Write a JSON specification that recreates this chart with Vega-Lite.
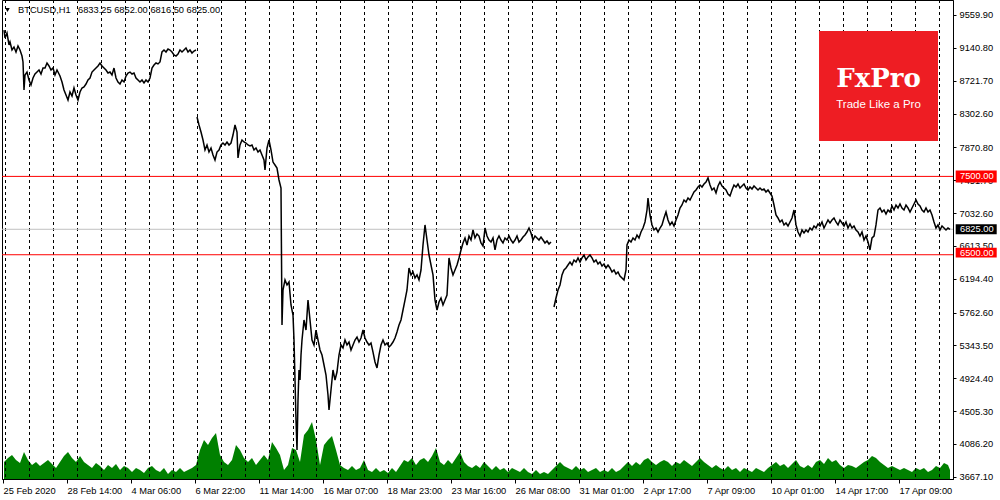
{
"$schema": "https://vega.github.io/schema/vega-lite/v6.json",
"width": 951, "height": 479,
"autosize": {"type": "none"},
"padding": {"left": 2, "top": 0, "right": 47, "bottom": 21},
"background": "#ffffff",
"config": {"view": {"stroke": "#000000", "strokeWidth": 1}},
"datasets": {
"grid": [{"g":2.5},{"g":26.5},{"g":50.5},{"g":74.5},{"g":98.5},{"g":122.5},{"g":146.5},{"g":170.5},{"g":194.5},{"g":218.5},{"g":242.5},{"g":266.5},{"g":290.5},{"g":313.5},{"g":337.5},{"g":361.5},{"g":385.5},{"g":409.5},{"g":433.5},{"g":457.5},{"g":481.5},{"g":505.5},{"g":529.5},{"g":553.5},{"g":577.5},{"g":601.5},{"g":625.5},{"g":648.5},{"g":672.5},{"g":696.5},{"g":720.5},{"g":744.5},{"g":768.5},{"g":792.5},{"g":816.5},{"g":840.5},{"g":864.5},{"g":888.5},{"g":912.5},{"g":936.5}],
"levels": [{"lv": 7500, "c": "red"}, {"lv": 6500, "c": "red"}, {"lv": 6825, "c": "grey"}],
"notes": [{"tx": "BTCUSD,H1", "x": 15, "y": 9623.7}, {"tx": "6833.25 6852.00 6816.50 6825.00", "x": 75, "y": 9623.7}],
"tags": [{"tx": "7500.00", "lv": 7500, "top": 7576.6, "bot": 7423.4, "c": "red"}, {"tx": "6825.00", "lv": 6825, "top": 6888.8, "bot": 6761.2, "c": "black"}, {"tx": "6500.00", "lv": 6527, "top": 6590, "bot": 6465, "c": "red"}],
"vol": [{"t":1,"v":17},{"t":5,"v":21},{"t":9,"v":24},{"t":13,"v":19},{"t":17,"v":16},{"t":21,"v":27},{"t":25,"v":19},{"t":29,"v":14},{"t":33,"v":17},{"t":37,"v":13},{"t":41,"v":16},{"t":45,"v":19},{"t":49,"v":15},{"t":53,"v":11},{"t":57,"v":17},{"t":61,"v":23},{"t":65,"v":27},{"t":69,"v":21},{"t":73,"v":17},{"t":77,"v":23},{"t":81,"v":17},{"t":85,"v":14},{"t":89,"v":11},{"t":93,"v":16},{"t":97,"v":13},{"t":101,"v":9},{"t":105,"v":14},{"t":109,"v":11},{"t":113,"v":15},{"t":117,"v":9},{"t":121,"v":13},{"t":125,"v":11},{"t":129,"v":7},{"t":133,"v":11},{"t":137,"v":9},{"t":141,"v":6},{"t":145,"v":11},{"t":149,"v":13},{"t":153,"v":9},{"t":157,"v":7},{"t":161,"v":11},{"t":165,"v":5},{"t":169,"v":9},{"t":173,"v":7},{"t":177,"v":11},{"t":181,"v":7},{"t":185,"v":9},{"t":189,"v":11},{"t":193,"v":14},{"t":197,"v":29},{"t":201,"v":39},{"t":205,"v":34},{"t":209,"v":41},{"t":213,"v":46},{"t":217,"v":24},{"t":221,"v":17},{"t":225,"v":14},{"t":229,"v":19},{"t":233,"v":34},{"t":237,"v":29},{"t":241,"v":21},{"t":245,"v":17},{"t":249,"v":21},{"t":253,"v":14},{"t":257,"v":19},{"t":261,"v":24},{"t":265,"v":19},{"t":269,"v":37},{"t":273,"v":31},{"t":277,"v":24},{"t":281,"v":9},{"t":285,"v":14},{"t":289,"v":31},{"t":293,"v":29},{"t":297,"v":17},{"t":301,"v":44},{"t":305,"v":49},{"t":309,"v":57},{"t":313,"v":39},{"t":317,"v":14},{"t":321,"v":34},{"t":325,"v":39},{"t":329,"v":43},{"t":333,"v":29},{"t":337,"v":14},{"t":341,"v":11},{"t":345,"v":9},{"t":349,"v":13},{"t":353,"v":9},{"t":357,"v":11},{"t":361,"v":19},{"t":365,"v":9},{"t":369,"v":7},{"t":373,"v":11},{"t":377,"v":7},{"t":381,"v":9},{"t":385,"v":6},{"t":389,"v":11},{"t":393,"v":7},{"t":397,"v":13},{"t":401,"v":19},{"t":405,"v":17},{"t":409,"v":21},{"t":413,"v":14},{"t":417,"v":19},{"t":421,"v":21},{"t":425,"v":17},{"t":429,"v":23},{"t":433,"v":31},{"t":437,"v":17},{"t":441,"v":14},{"t":445,"v":19},{"t":449,"v":15},{"t":453,"v":21},{"t":457,"v":27},{"t":461,"v":17},{"t":465,"v":13},{"t":469,"v":11},{"t":473,"v":14},{"t":477,"v":11},{"t":481,"v":17},{"t":485,"v":13},{"t":489,"v":9},{"t":493,"v":13},{"t":497,"v":9},{"t":501,"v":11},{"t":505,"v":7},{"t":509,"v":11},{"t":513,"v":9},{"t":517,"v":7},{"t":521,"v":11},{"t":525,"v":7},{"t":529,"v":5},{"t":533,"v":9},{"t":537,"v":5},{"t":541,"v":7},{"t":545,"v":5},{"t":549,"v":9},{"t":553,"v":13},{"t":557,"v":17},{"t":561,"v":13},{"t":565,"v":11},{"t":569,"v":9},{"t":573,"v":13},{"t":577,"v":9},{"t":581,"v":11},{"t":585,"v":7},{"t":589,"v":9},{"t":593,"v":11},{"t":597,"v":7},{"t":601,"v":9},{"t":605,"v":7},{"t":609,"v":11},{"t":613,"v":7},{"t":617,"v":9},{"t":621,"v":13},{"t":625,"v":17},{"t":629,"v":13},{"t":633,"v":17},{"t":637,"v":14},{"t":641,"v":19},{"t":645,"v":21},{"t":649,"v":17},{"t":653,"v":14},{"t":657,"v":17},{"t":661,"v":19},{"t":665,"v":17},{"t":669,"v":13},{"t":673,"v":17},{"t":677,"v":15},{"t":681,"v":19},{"t":685,"v":16},{"t":689,"v":13},{"t":693,"v":17},{"t":697,"v":21},{"t":701,"v":17},{"t":705,"v":14},{"t":709,"v":11},{"t":713,"v":14},{"t":717,"v":11},{"t":721,"v":9},{"t":725,"v":13},{"t":729,"v":9},{"t":733,"v":11},{"t":737,"v":7},{"t":741,"v":11},{"t":745,"v":9},{"t":749,"v":7},{"t":753,"v":11},{"t":757,"v":9},{"t":761,"v":7},{"t":765,"v":11},{"t":769,"v":14},{"t":773,"v":17},{"t":777,"v":13},{"t":781,"v":15},{"t":785,"v":11},{"t":789,"v":15},{"t":793,"v":19},{"t":797,"v":13},{"t":801,"v":11},{"t":805,"v":14},{"t":809,"v":11},{"t":813,"v":17},{"t":817,"v":19},{"t":821,"v":15},{"t":825,"v":21},{"t":829,"v":17},{"t":833,"v":19},{"t":837,"v":14},{"t":841,"v":11},{"t":845,"v":14},{"t":849,"v":13},{"t":853,"v":11},{"t":857,"v":14},{"t":861,"v":17},{"t":865,"v":19},{"t":869,"v":23},{"t":873,"v":21},{"t":877,"v":17},{"t":881,"v":14},{"t":885,"v":11},{"t":889,"v":13},{"t":893,"v":11},{"t":897,"v":9},{"t":901,"v":11},{"t":905,"v":9},{"t":909,"v":7},{"t":913,"v":11},{"t":917,"v":9},{"t":921,"v":11},{"t":925,"v":7},{"t":929,"v":9},{"t":933,"v":13},{"t":937,"v":11},{"t":941,"v":16},{"t":945,"v":14},{"t":947,"v":9}],
"price": [
{"s":"A","t":1,"p":9368},{"s":"A","t":2,"p":9266},{"s":"A","t":4,"p":9330},{"s":"A","t":6,"p":9177},{"s":"A","t":7,"p":9215},{"s":"A","t":9,"p":9113},{"s":"A","t":11,"p":9151},{"s":"A","t":13,"p":9088},{"s":"A","t":15,"p":9164},{"s":"A","t":17,"p":9113},{"s":"A","t":19,"p":9036},{"s":"A","t":20,"p":8960},{"s":"A","t":21,"p":8603},{"s":"A","t":22,"p":8794},{"s":"A","t":24,"p":8832},{"s":"A","t":26,"p":8730},{"s":"A","t":28,"p":8666},{"s":"A","t":30,"p":8756},{"s":"A","t":32,"p":8807},{"s":"A","t":34,"p":8832},{"s":"A","t":36,"p":8858},{"s":"A","t":38,"p":8807},{"s":"A","t":40,"p":8883},{"s":"A","t":42,"p":8883},{"s":"A","t":44,"p":8947},{"s":"A","t":46,"p":8909},{"s":"A","t":48,"p":8858},{"s":"A","t":50,"p":8883},{"s":"A","t":52,"p":8794},{"s":"A","t":54,"p":8858},{"s":"A","t":57,"p":8781},{"s":"A","t":59,"p":8705},{"s":"A","t":61,"p":8603},{"s":"A","t":63,"p":8539},{"s":"A","t":65,"p":8475},{"s":"A","t":67,"p":8577},{"s":"A","t":69,"p":8526},{"s":"A","t":71,"p":8628},{"s":"A","t":73,"p":8539},{"s":"A","t":75,"p":8475},{"s":"A","t":77,"p":8577},{"s":"A","t":79,"p":8628},{"s":"A","t":81,"p":8641},{"s":"A","t":83,"p":8679},{"s":"A","t":85,"p":8730},{"s":"A","t":87,"p":8756},{"s":"A","t":89,"p":8832},{"s":"A","t":91,"p":8858},{"s":"A","t":93,"p":8883},{"s":"A","t":95,"p":8909},{"s":"A","t":97,"p":8947},{"s":"A","t":99,"p":8909},{"s":"A","t":101,"p":8883},{"s":"A","t":103,"p":8858},{"s":"A","t":105,"p":8820},{"s":"A","t":107,"p":8832},{"s":"A","t":109,"p":8794},{"s":"A","t":111,"p":8883},{"s":"A","t":113,"p":8756},{"s":"A","t":115,"p":8705},{"s":"A","t":117,"p":8679},{"s":"A","t":119,"p":8730},{"s":"A","t":121,"p":8705},{"s":"A","t":123,"p":8781},{"s":"A","t":125,"p":8820},{"s":"A","t":127,"p":8832},{"s":"A","t":129,"p":8807},{"s":"A","t":131,"p":8820},{"s":"A","t":133,"p":8756},{"s":"A","t":135,"p":8730},{"s":"A","t":137,"p":8705},{"s":"A","t":139,"p":8730},{"s":"A","t":141,"p":8692},{"s":"A","t":143,"p":8730},{"s":"A","t":145,"p":8705},{"s":"A","t":147,"p":8756},{"s":"A","t":149,"p":8883},{"s":"A","t":151,"p":8922},{"s":"A","t":153,"p":8947},{"s":"A","t":155,"p":8935},{"s":"A","t":157,"p":8960},{"s":"A","t":159,"p":9088},{"s":"A","t":161,"p":9113},{"s":"A","t":163,"p":9088},{"s":"A","t":165,"p":9126},{"s":"A","t":167,"p":9113},{"s":"A","t":169,"p":9088},{"s":"A","t":171,"p":9049},{"s":"A","t":173,"p":9036},{"s":"A","t":175,"p":9062},{"s":"A","t":177,"p":9113},{"s":"A","t":179,"p":9088},{"s":"A","t":181,"p":9113},{"s":"A","t":183,"p":9139},{"s":"A","t":185,"p":9088},{"s":"A","t":187,"p":9113},{"s":"A","t":189,"p":9075},{"s":"A","t":191,"p":9100},{"s":"A","t":193,"p":9113},
{"s":"B","t":194,"p":8258},{"s":"B","t":196,"p":8156},{"s":"B","t":198,"p":8066},{"s":"B","t":200,"p":7964},{"s":"B","t":202,"p":7837},{"s":"B","t":204,"p":7901},{"s":"B","t":206,"p":7811},{"s":"B","t":208,"p":7862},{"s":"B","t":210,"p":7773},{"s":"B","t":212,"p":7709},{"s":"B","t":214,"p":7811},{"s":"B","t":216,"p":7837},{"s":"B","t":218,"p":7901},{"s":"B","t":220,"p":7926},{"s":"B","t":222,"p":7901},{"s":"B","t":224,"p":7939},{"s":"B","t":226,"p":7901},{"s":"B","t":228,"p":7926},{"s":"B","t":230,"p":8028},{"s":"B","t":232,"p":8156},{"s":"B","t":234,"p":8066},{"s":"B","t":235,"p":7735},{"s":"B","t":237,"p":7901},{"s":"B","t":239,"p":7964},{"s":"B","t":241,"p":7939},{"s":"B","t":243,"p":7926},{"s":"B","t":245,"p":7901},{"s":"B","t":247,"p":7888},{"s":"B","t":249,"p":7901},{"s":"B","t":251,"p":7837},{"s":"B","t":253,"p":7862},{"s":"B","t":255,"p":7811},{"s":"B","t":257,"p":7837},{"s":"B","t":259,"p":7773},{"s":"B","t":261,"p":7709},{"s":"B","t":262,"p":7582},{"s":"B","t":264,"p":7862},{"s":"B","t":266,"p":7964},{"s":"B","t":268,"p":7837},{"s":"B","t":270,"p":7683},{"s":"B","t":272,"p":7645},{"s":"B","t":274,"p":7607},{"s":"B","t":276,"p":7454},{"s":"B","t":278,"p":7352},{"s":"B","t":279,"p":5603},{"s":"B","t":280,"p":6050},{"s":"B","t":282,"p":6178},{"s":"B","t":284,"p":6114},{"s":"B","t":286,"p":6152},{"s":"B","t":288,"p":5859},{"s":"B","t":290,"p":5731},{"s":"B","t":291,"p":5412},{"s":"B","t":292,"p":4901},{"s":"B","t":293,"p":4391},{"s":"B","t":294,"p":4008},{"s":"B","t":295,"p":4646},{"s":"B","t":296,"p":5029},{"s":"B","t":297,"p":4901},{"s":"B","t":298,"p":5220},{"s":"B","t":299,"p":5412},{"s":"B","t":301,"p":5667},{"s":"B","t":303,"p":5539},{"s":"B","t":305,"p":5922},{"s":"B","t":307,"p":5667},{"s":"B","t":309,"p":5412},{"s":"B","t":311,"p":5348},{"s":"B","t":313,"p":5539},{"s":"B","t":315,"p":5412},{"s":"B","t":317,"p":5284},{"s":"B","t":319,"p":5220},{"s":"B","t":321,"p":5093},{"s":"B","t":323,"p":4965},{"s":"B","t":325,"p":4710},{"s":"B","t":326,"p":4518},{"s":"B","t":328,"p":4774},{"s":"B","t":330,"p":5029},{"s":"B","t":332,"p":4901},{"s":"B","t":334,"p":5003},{"s":"B","t":336,"p":5220},{"s":"B","t":338,"p":5348},{"s":"B","t":340,"p":5310},{"s":"B","t":342,"p":5412},{"s":"B","t":344,"p":5348},{"s":"B","t":346,"p":5386},{"s":"B","t":348,"p":5284},{"s":"B","t":350,"p":5348},{"s":"B","t":352,"p":5412},{"s":"B","t":354,"p":5450},{"s":"B","t":356,"p":5386},{"s":"B","t":358,"p":5437},{"s":"B","t":360,"p":5539},{"s":"B","t":362,"p":5437},{"s":"B","t":364,"p":5386},{"s":"B","t":366,"p":5348},{"s":"B","t":368,"p":5374},{"s":"B","t":370,"p":5258},{"s":"B","t":372,"p":5131},{"s":"B","t":374,"p":5055},{"s":"B","t":376,"p":5220},{"s":"B","t":378,"p":5348},{"s":"B","t":380,"p":5412},{"s":"B","t":382,"p":5348},{"s":"B","t":384,"p":5374},{"s":"B","t":386,"p":5323},{"s":"B","t":388,"p":5348},{"s":"B","t":390,"p":5386},{"s":"B","t":392,"p":5437},{"s":"B","t":394,"p":5514},{"s":"B","t":396,"p":5603},{"s":"B","t":398,"p":5667},{"s":"B","t":400,"p":5795},{"s":"B","t":402,"p":5922},{"s":"B","t":404,"p":6050},{"s":"B","t":406,"p":6331},{"s":"B","t":408,"p":6242},{"s":"B","t":410,"p":6280},{"s":"B","t":412,"p":6203},{"s":"B","t":414,"p":6242},{"s":"B","t":416,"p":6178},{"s":"B","t":418,"p":6305},{"s":"B","t":420,"p":6624},{"s":"B","t":422,"p":6880},{"s":"B","t":424,"p":6688},{"s":"B","t":426,"p":6497},{"s":"B","t":428,"p":6369},{"s":"B","t":430,"p":6242},{"s":"B","t":432,"p":5922},{"s":"B","t":434,"p":5795},{"s":"B","t":436,"p":5897},{"s":"B","t":438,"p":5948},{"s":"B","t":440,"p":5859},{"s":"B","t":442,"p":5922},{"s":"B","t":444,"p":5986},{"s":"B","t":446,"p":6459},{"s":"B","t":448,"p":6331},{"s":"B","t":450,"p":6242},{"s":"B","t":452,"p":6305},{"s":"B","t":454,"p":6369},{"s":"B","t":456,"p":6459},{"s":"B","t":458,"p":6561},{"s":"B","t":460,"p":6650},{"s":"B","t":462,"p":6714},{"s":"B","t":464,"p":6624},{"s":"B","t":466,"p":6739},{"s":"B","t":468,"p":6688},{"s":"B","t":470,"p":6816},{"s":"B","t":472,"p":6714},{"s":"B","t":474,"p":6765},{"s":"B","t":476,"p":6739},{"s":"B","t":478,"p":6650},{"s":"B","t":480,"p":6611},{"s":"B","t":482,"p":6841},{"s":"B","t":484,"p":6739},{"s":"B","t":486,"p":6688},{"s":"B","t":488,"p":6662},{"s":"B","t":490,"p":6714},{"s":"B","t":492,"p":6561},{"s":"B","t":494,"p":6688},{"s":"B","t":496,"p":6739},{"s":"B","t":498,"p":6688},{"s":"B","t":500,"p":6650},{"s":"B","t":502,"p":6714},{"s":"B","t":504,"p":6688},{"s":"B","t":506,"p":6739},{"s":"B","t":508,"p":6688},{"s":"B","t":510,"p":6650},{"s":"B","t":512,"p":6688},{"s":"B","t":514,"p":6739},{"s":"B","t":516,"p":6662},{"s":"B","t":518,"p":6688},{"s":"B","t":520,"p":6726},{"s":"B","t":522,"p":6752},{"s":"B","t":524,"p":6790},{"s":"B","t":526,"p":6841},{"s":"B","t":528,"p":6778},{"s":"B","t":530,"p":6688},{"s":"B","t":532,"p":6739},{"s":"B","t":534,"p":6714},{"s":"B","t":536,"p":6688},{"s":"B","t":538,"p":6726},{"s":"B","t":540,"p":6688},{"s":"B","t":542,"p":6650},{"s":"B","t":544,"p":6675},{"s":"B","t":546,"p":6637},{"s":"B","t":548,"p":6662},
{"s":"C","t":551,"p":5833},{"s":"C","t":553,"p":5948},{"s":"C","t":555,"p":6050},{"s":"C","t":557,"p":6114},{"s":"C","t":559,"p":6242},{"s":"C","t":561,"p":6305},{"s":"C","t":563,"p":6331},{"s":"C","t":565,"p":6369},{"s":"C","t":567,"p":6407},{"s":"C","t":569,"p":6369},{"s":"C","t":571,"p":6433},{"s":"C","t":573,"p":6407},{"s":"C","t":575,"p":6459},{"s":"C","t":577,"p":6407},{"s":"C","t":579,"p":6459},{"s":"C","t":581,"p":6497},{"s":"C","t":583,"p":6433},{"s":"C","t":585,"p":6472},{"s":"C","t":587,"p":6497},{"s":"C","t":589,"p":6459},{"s":"C","t":591,"p":6407},{"s":"C","t":593,"p":6433},{"s":"C","t":595,"p":6382},{"s":"C","t":597,"p":6407},{"s":"C","t":599,"p":6356},{"s":"C","t":601,"p":6382},{"s":"C","t":603,"p":6331},{"s":"C","t":605,"p":6369},{"s":"C","t":607,"p":6331},{"s":"C","t":609,"p":6280},{"s":"C","t":611,"p":6305},{"s":"C","t":613,"p":6254},{"s":"C","t":615,"p":6280},{"s":"C","t":617,"p":6229},{"s":"C","t":619,"p":6203},{"s":"C","t":621,"p":6178},{"s":"C","t":623,"p":6305},{"s":"C","t":624,"p":6624},{"s":"C","t":626,"p":6688},{"s":"C","t":628,"p":6662},{"s":"C","t":630,"p":6714},{"s":"C","t":632,"p":6688},{"s":"C","t":634,"p":6752},{"s":"C","t":636,"p":6714},{"s":"C","t":638,"p":6790},{"s":"C","t":640,"p":6841},{"s":"C","t":642,"p":6918},{"s":"C","t":644,"p":7071},{"s":"C","t":645,"p":7224},{"s":"C","t":647,"p":7007},{"s":"C","t":649,"p":6880},{"s":"C","t":651,"p":6816},{"s":"C","t":653,"p":6841},{"s":"C","t":655,"p":6790},{"s":"C","t":657,"p":6841},{"s":"C","t":659,"p":6880},{"s":"C","t":661,"p":6969},{"s":"C","t":663,"p":7045},{"s":"C","t":665,"p":6943},{"s":"C","t":667,"p":6880},{"s":"C","t":669,"p":6918},{"s":"C","t":671,"p":6867},{"s":"C","t":673,"p":6943},{"s":"C","t":675,"p":7007},{"s":"C","t":677,"p":7097},{"s":"C","t":679,"p":7135},{"s":"C","t":681,"p":7199},{"s":"C","t":683,"p":7173},{"s":"C","t":685,"p":7224},{"s":"C","t":687,"p":7199},{"s":"C","t":689,"p":7250},{"s":"C","t":691,"p":7301},{"s":"C","t":693,"p":7326},{"s":"C","t":695,"p":7365},{"s":"C","t":697,"p":7390},{"s":"C","t":699,"p":7365},{"s":"C","t":701,"p":7403},{"s":"C","t":703,"p":7428},{"s":"C","t":705,"p":7480},{"s":"C","t":707,"p":7390},{"s":"C","t":709,"p":7326},{"s":"C","t":711,"p":7352},{"s":"C","t":713,"p":7288},{"s":"C","t":715,"p":7377},{"s":"C","t":717,"p":7428},{"s":"C","t":719,"p":7377},{"s":"C","t":721,"p":7352},{"s":"C","t":723,"p":7326},{"s":"C","t":725,"p":7275},{"s":"C","t":727,"p":7250},{"s":"C","t":729,"p":7326},{"s":"C","t":731,"p":7390},{"s":"C","t":733,"p":7365},{"s":"C","t":735,"p":7403},{"s":"C","t":737,"p":7352},{"s":"C","t":739,"p":7377},{"s":"C","t":741,"p":7403},{"s":"C","t":743,"p":7352},{"s":"C","t":745,"p":7326},{"s":"C","t":747,"p":7365},{"s":"C","t":749,"p":7339},{"s":"C","t":751,"p":7377},{"s":"C","t":753,"p":7352},{"s":"C","t":755,"p":7326},{"s":"C","t":757,"p":7352},{"s":"C","t":759,"p":7326},{"s":"C","t":761,"p":7339},{"s":"C","t":763,"p":7301},{"s":"C","t":765,"p":7326},{"s":"C","t":767,"p":7288},{"s":"C","t":769,"p":7250},{"s":"C","t":771,"p":7135},{"s":"C","t":773,"p":7007},{"s":"C","t":775,"p":6969},{"s":"C","t":777,"p":6918},{"s":"C","t":779,"p":6943},{"s":"C","t":781,"p":6880},{"s":"C","t":783,"p":6905},{"s":"C","t":785,"p":6867},{"s":"C","t":787,"p":6918},{"s":"C","t":789,"p":6969},{"s":"C","t":791,"p":7071},{"s":"C","t":793,"p":6880},{"s":"C","t":795,"p":6790},{"s":"C","t":797,"p":6739},{"s":"C","t":799,"p":6816},{"s":"C","t":801,"p":6778},{"s":"C","t":803,"p":6816},{"s":"C","t":805,"p":6790},{"s":"C","t":807,"p":6841},{"s":"C","t":809,"p":6816},{"s":"C","t":811,"p":6867},{"s":"C","t":813,"p":6841},{"s":"C","t":815,"p":6892},{"s":"C","t":817,"p":6867},{"s":"C","t":819,"p":6918},{"s":"C","t":821,"p":6841},{"s":"C","t":823,"p":6892},{"s":"C","t":825,"p":6943},{"s":"C","t":827,"p":6905},{"s":"C","t":829,"p":6943},{"s":"C","t":831,"p":6969},{"s":"C","t":833,"p":6918},{"s":"C","t":835,"p":6880},{"s":"C","t":837,"p":6943},{"s":"C","t":839,"p":6905},{"s":"C","t":841,"p":6867},{"s":"C","t":843,"p":6918},{"s":"C","t":845,"p":6841},{"s":"C","t":847,"p":6892},{"s":"C","t":849,"p":6841},{"s":"C","t":851,"p":6867},{"s":"C","t":853,"p":6816},{"s":"C","t":855,"p":6790},{"s":"C","t":857,"p":6739},{"s":"C","t":859,"p":6790},{"s":"C","t":861,"p":6688},{"s":"C","t":863,"p":6739},{"s":"C","t":865,"p":6662},{"s":"C","t":867,"p":6561},{"s":"C","t":869,"p":6714},{"s":"C","t":871,"p":6739},{"s":"C","t":873,"p":6880},{"s":"C","t":875,"p":7071},{"s":"C","t":877,"p":7097},{"s":"C","t":879,"p":7045},{"s":"C","t":881,"p":7071},{"s":"C","t":883,"p":7020},{"s":"C","t":885,"p":7071},{"s":"C","t":887,"p":7045},{"s":"C","t":889,"p":7122},{"s":"C","t":891,"p":7071},{"s":"C","t":893,"p":7135},{"s":"C","t":895,"p":7097},{"s":"C","t":897,"p":7148},{"s":"C","t":899,"p":7097},{"s":"C","t":901,"p":7071},{"s":"C","t":903,"p":7135},{"s":"C","t":905,"p":7097},{"s":"C","t":907,"p":7045},{"s":"C","t":909,"p":7097},{"s":"C","t":911,"p":7148},{"s":"C","t":913,"p":7199},{"s":"C","t":915,"p":7148},{"s":"C","t":917,"p":7122},{"s":"C","t":919,"p":7071},{"s":"C","t":921,"p":7045},{"s":"C","t":923,"p":7097},{"s":"C","t":925,"p":7045},{"s":"C","t":927,"p":7071},{"s":"C","t":929,"p":7007},{"s":"C","t":931,"p":6918},{"s":"C","t":933,"p":6841},{"s":"C","t":935,"p":6880},{"s":"C","t":937,"p":6816},{"s":"C","t":939,"p":6867},{"s":"C","t":941,"p":6841},{"s":"C","t":943,"p":6816},{"s":"C","t":945,"p":6841},{"s":"C","t":947,"p":6825}
]
},
"layer": [
{"data": {"name": "vol"}, "mark": {"type": "area", "color": "#008000", "interpolate": "linear"},
 "encoding": {"x": {"field": "t", "type": "quantitative", "scale": {"domain": [-1, 950], "nice": false, "zero": false},
    "axis": {"orient": "bottom", "title": null, "grid": false, "domainColor": "#000000", "tickColor": "#000000", "labelColor": "#000000", "labelFont": "Liberation Sans", "labelFontSize": 9.3, "values": [0, 64, 128, 192, 256, 320, 384, 448, 512, 576, 640, 704, 768, 832, 896], "labelAlign": "left", "labelFlush": false, "labelOverlap": false, "tickSize": 4, "labelPadding": 3,
     "labelExpr": "datum.value < 32 ? '25 Feb 2020' : datum.value < 96 ? '28 Feb 14:00' : datum.value < 160 ? '4 Mar 06:00' : datum.value < 224 ? '6 Mar 22:00' : datum.value < 288 ? '11 Mar 14:00' : datum.value < 352 ? '16 Mar 07:00' : datum.value < 416 ? '18 Mar 23:00' : datum.value < 480 ? '23 Mar 16:00' : datum.value < 544 ? '26 Mar 08:00' : datum.value < 608 ? '31 Mar 01:00' : datum.value < 672 ? '2 Apr 17:00' : datum.value < 736 ? '7 Apr 09:00' : datum.value < 800 ? '10 Apr 01:00' : datum.value < 864 ? '14 Apr 17:00' : '17 Apr 09:00'"}},
  "y": {"field": "v", "type": "quantitative", "scale": {"domain": [0, 479], "nice": false}, "axis": null}}},
{"data": {"name": "grid"}, "mark": {"type": "rule", "color": "#000000", "strokeWidth": 1, "strokeDash": [3, 3]},
 "encoding": {"x": {"field": "g", "type": "quantitative", "scale": {"domain": [-1, 950], "nice": false, "zero": false}, "axis": null}}},
{"data": {"name": "levels"}, "mark": {"type": "rule", "strokeWidth": 1},
 "encoding": {"y": {"field": "lv", "type": "quantitative", "scale": {"domain": [3637.8, 9751.3], "nice": false, "zero": false}, "axis": null},
  "color": {"field": "c", "type": "nominal", "scale": {"domain": ["red", "grey", "black"], "range": ["#ff0000", "#c0c0c0", "#000000"]}, "legend": null}}},
{"data": {"name": "price"}, "mark": {"type": "line", "color": "#000000", "strokeWidth": 1.5},
 "encoding": {
  "x": {"field": "t", "type": "quantitative", "scale": {"domain": [-1, 950], "nice": false, "zero": false}, "axis": null},
  "y": {"field": "p", "type": "quantitative", "scale": {"domain": [3637.8, 9751.3], "nice": false, "zero": false},
   "axis": {"orient": "right", "title": null, "grid": false, "domainColor": "#000000", "tickColor": "#000000", "labelColor": "#000000", "labelFont": "Liberation Sans", "labelFontSize": 9.3, "values": [9559.9, 9140.8, 8721.7, 8302.6, 7870.8, 7451.7, 7032.6, 6613.5, 6194.4, 5762.6, 5343.5, 4924.4, 4505.3, 4086.2, 3667.1], "format": ".2f", "tickSize": 3, "labelPadding": 3, "labelFlush": false, "labelOverlap": false}},
  "detail": {"field": "s", "type": "nominal"}}},
{"data": {"values": [{"x1": 816, "x2": 935, "y1": 9355.7, "y2": 7951.7}]}, "mark": {"type": "rect", "color": "#ee1d23"},
 "encoding": {"x": {"field": "x1", "type": "quantitative", "scale": {"domain": [-1, 950], "nice": false, "zero": false}, "axis": null}, "x2": {"field": "x2"},
  "y": {"field": "y1", "type": "quantitative", "scale": {"domain": [3637.8, 9751.3], "nice": false, "zero": false}, "axis": null}, "y2": {"field": "y2"}}},
{"data": {"values": [{"tx": "FxPro", "x": 875.5, "y": 8743}]}, "mark": {"type": "text", "align": "center", "baseline": "middle", "font": "DejaVu Serif", "fontSize": 26, "fontWeight": "bold", "color": "#ffffff"},
 "encoding": {"text": {"field": "tx"}, "x": {"field": "x", "type": "quantitative", "scale": {"domain": [-1, 950], "nice": false, "zero": false}, "axis": null},
  "y": {"field": "y", "type": "quantitative", "scale": {"domain": [3637.8, 9751.3], "nice": false, "zero": false}, "axis": null}}},
{"data": {"values": [{"tx": "Trade Like a Pro", "x": 875.5, "y": 8411}]}, "mark": {"type": "text", "align": "center", "baseline": "middle", "font": "Liberation Sans", "fontSize": 11.5, "color": "#ffffff"},
 "encoding": {"text": {"field": "tx"}, "x": {"field": "x", "type": "quantitative", "scale": {"domain": [-1, 950], "nice": false, "zero": false}, "axis": null},
  "y": {"field": "y", "type": "quantitative", "scale": {"domain": [3637.8, 9751.3], "nice": false, "zero": false}, "axis": null}}},
{"data": {"values": [{"x": 4.5, "y": 9623.7}]}, "mark": {"type": "point", "shape": "triangle-down", "filled": true, "size": 20, "color": "#000000", "opacity": 1},
 "encoding": {"x": {"field": "x", "type": "quantitative", "scale": {"domain": [-1, 950], "nice": false, "zero": false}, "axis": null},
  "y": {"field": "y", "type": "quantitative", "scale": {"domain": [3637.8, 9751.3], "nice": false, "zero": false}, "axis": null}}},
{"data": {"name": "notes"}, "mark": {"type": "text", "align": "left", "baseline": "middle", "font": "Liberation Sans", "fontSize": 9.3, "color": "#000000"},
 "encoding": {"text": {"field": "tx"}, "x": {"field": "x", "type": "quantitative", "scale": {"domain": [-1, 950], "nice": false, "zero": false}, "axis": null},
  "y": {"field": "y", "type": "quantitative", "scale": {"domain": [3637.8, 9751.3], "nice": false, "zero": false}, "axis": null}}},
{"data": {"name": "tags"}, "mark": {"type": "rect"},
 "encoding": {"x": {"datum": 952.7, "type": "quantitative", "scale": {"domain": [-1, 950], "nice": false, "zero": false}, "axis": null}, "x2": {"datum": 993.7},
  "y": {"field": "top", "type": "quantitative", "scale": {"domain": [3637.8, 9751.3], "nice": false, "zero": false}, "axis": null}, "y2": {"field": "bot"},
  "color": {"field": "c", "type": "nominal", "scale": {"domain": ["red", "grey", "black"], "range": ["#ff0000", "#c0c0c0", "#000000"]}, "legend": null}}},
{"data": {"name": "tags"}, "mark": {"type": "text", "align": "left", "baseline": "middle", "font": "Liberation Sans", "fontSize": 9.3, "color": "#ffffff"},
 "encoding": {"text": {"field": "tx"}, "x": {"datum": 957, "type": "quantitative", "scale": {"domain": [-1, 950], "nice": false, "zero": false}, "axis": null},
  "y": {"field": "lv", "type": "quantitative", "scale": {"domain": [3637.8, 9751.3], "nice": false, "zero": false}, "axis": null}}}
],
"resolve": {"scale": {"y": "independent"}, "axis": {"x": "independent"}}
}
